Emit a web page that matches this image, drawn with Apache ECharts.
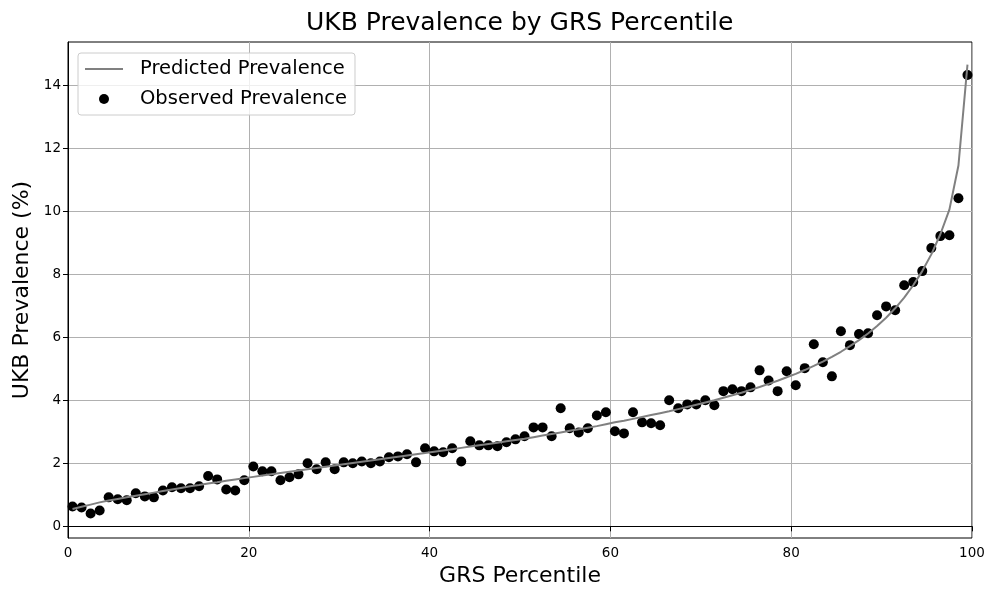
<!DOCTYPE html>
<html>
<head>
<meta charset="utf-8">
<script src="https://cdn.jsdelivr.net/npm/echarts@6/dist/echarts.min.js"></script>
<style>
  html, body { margin: 0; padding: 0; background: #fff; }
  #chart { width: 1000px; height: 600px; }
</style>
</head>
<body>
<div id="chart"></div>
<script>
// percentile mid points 0.5 .. 99.5
var percentiles = [];
for (var i = 0; i < 100; i++) percentiles.push(i + 0.5);

// observed prevalence (%)
var observed = [
  0.63, 0.60, 0.41, 0.50, 0.92, 0.86, 0.83, 1.05, 0.95, 0.92,
  1.14, 1.24, 1.21, 1.21, 1.27, 1.60, 1.49, 1.17, 1.14, 1.46,
  1.90, 1.75, 1.75, 1.46, 1.56, 1.65, 2.00, 1.81, 2.03, 1.81,
  2.03, 2.00, 2.06, 2.00, 2.06, 2.19, 2.22, 2.29, 2.03, 2.48,
  2.38, 2.35, 2.48, 2.06, 2.70, 2.57, 2.57, 2.54, 2.67, 2.76,
  2.86, 3.14, 3.14, 2.86, 3.75, 3.11, 2.98, 3.11, 3.52, 3.62,
  3.02, 2.95, 3.62, 3.30, 3.27, 3.21, 4.00, 3.75, 3.87, 3.87,
  4.00, 3.84, 4.29, 4.35, 4.29, 4.41, 4.95, 4.63, 4.29, 4.92,
  4.48, 5.02, 5.78, 5.21, 4.76, 6.19, 5.75, 6.10, 6.13, 6.70,
  6.98, 6.86, 7.65, 7.75, 8.10, 8.83, 9.21, 9.24, 10.41, 14.32
];

// predicted prevalence (%)
var predicted = [
  0.55, 0.62, 0.69, 0.76, 0.82, 0.87, 0.92, 0.97, 1.02, 1.07,
  1.12, 1.17, 1.22, 1.27, 1.31, 1.36, 1.40, 1.45, 1.49, 1.53,
  1.57, 1.61, 1.65, 1.69, 1.73, 1.77, 1.81, 1.85, 1.89, 1.93,
  1.97, 2.01, 2.05, 2.09, 2.13, 2.17, 2.21, 2.25, 2.29, 2.33,
  2.37, 2.41, 2.45, 2.49, 2.53, 2.57, 2.61, 2.65, 2.70, 2.74,
  2.78, 2.83, 2.88, 2.93, 2.98, 3.03, 3.08, 3.13, 3.18, 3.24,
  3.30, 3.35, 3.41, 3.47, 3.53, 3.59, 3.65, 3.72, 3.79, 3.86,
  3.93, 4.00, 4.08, 4.16, 4.24, 4.33, 4.42, 4.52, 4.62, 4.73,
  4.84, 4.96, 5.09, 5.23, 5.38, 5.54, 5.72, 5.91, 6.12, 6.36,
  6.62, 6.92, 7.26, 7.65, 8.10, 8.63, 9.27, 10.05, 11.45, 14.65
];

var xTicks = [0, 20, 40, 60, 80, 100];
var yTicks = [0, 2, 4, 6, 8, 10, 12, 14];

var predPairs = percentiles.map(function (p, i) { return [p, predicted[i]]; });
var obsPairs = percentiles.map(function (p, i) { return [p, observed[i]]; });

var font = 'DejaVu Sans';
var myChart = echarts.init(document.getElementById('chart'));
var option = {
    animation: false,
    backgroundColor: '#fff',
    textStyle: { fontFamily: font },
    title: {
        text: 'UKB Prevalence by GRS Percentile',
        left: 306,
        top: 11,
        padding: 0,
        textStyle: { fontFamily: font, fontSize: 25, fontWeight: 'normal', color: '#000' }
    },
    legend: {
        orient: 'vertical',
        left: 78,
        top: 53,
        padding: [6, 8, 6, 7],
        itemWidth: 38,
        itemHeight: 10,
        itemGap: 10,
        backgroundColor: 'rgba(255,255,255,0.8)',
        borderColor: '#cccccc',
        borderWidth: 1,
        borderRadius: 3,
        textStyle: { fontFamily: font, fontSize: 19.5, color: '#000', padding: [0, 0, 0, 12] },
        data: [
            { name: 'Predicted Prevalence', icon: 'path://M0,0 L38,0 L38,2 L0,2 Z' },
            { name: 'Observed Prevalence', icon: 'circle' }
        ]
    },
    grid: {
        left: 68, right: 28, top: 42, bottom: 62,
        show: true, borderColor: '#000', borderWidth: 1
    },
    xAxis: {
        type: 'value',
        min: 0, max: 100, interval: 20,
        name: 'GRS Percentile',
        nameLocation: 'middle',
        nameGap: 26,
        nameTextStyle: { fontFamily: font, fontSize: 22, color: '#000' },
        axisLine: { show: true, lineStyle: { color: '#000', width: 1 } },
        axisTick: { show: true, length: 5, lineStyle: { color: '#000' } },
        axisLabel: { fontFamily: font, fontSize: 13.5, color: '#000', margin: 8, customValues: xTicks },
        splitLine: { show: true, lineStyle: { color: '#b0b0b0', width: 1 } }
    },
    yAxis: {
        type: 'value',
        min: -0.37, max: 15.37,
        minInterval: 2, maxInterval: 2, splitNumber: 8,
        name: 'UKB Prevalence (%)',
        nameLocation: 'middle',
        nameGap: 33,
        nameTextStyle: { fontFamily: font, fontSize: 22, color: '#000' },
        axisLine: { show: true, lineStyle: { color: '#000', width: 1 } },
        axisTick: { show: true, length: 5, lineStyle: { color: '#000' }, customValues: yTicks },
        axisLabel: {
            fontFamily: font, fontSize: 13.5, color: '#000', margin: 7,
            customValues: yTicks,
            formatter: function (v) { return yTicks.indexOf(v) >= 0 ? String(v) : ''; }
        },
        splitLine: { show: true, lineStyle: { color: '#b0b0b0', width: 1 } }
    },
    series: [
        {
            name: 'Predicted Prevalence',
            type: 'line',
            data: predPairs,
            symbol: 'none',
            z: 3,
            color: '#808080',
            lineStyle: { color: '#808080', width: 2 }
        },
        {
            name: 'Observed Prevalence',
            type: 'scatter',
            data: obsPairs,
            symbol: 'circle',
            symbolSize: 10,
            z: 2,
            color: '#000',
            itemStyle: { color: '#000', opacity: 1 }
        }
    ]
};
myChart.setOption(option);
</script>
</body>
</html>
